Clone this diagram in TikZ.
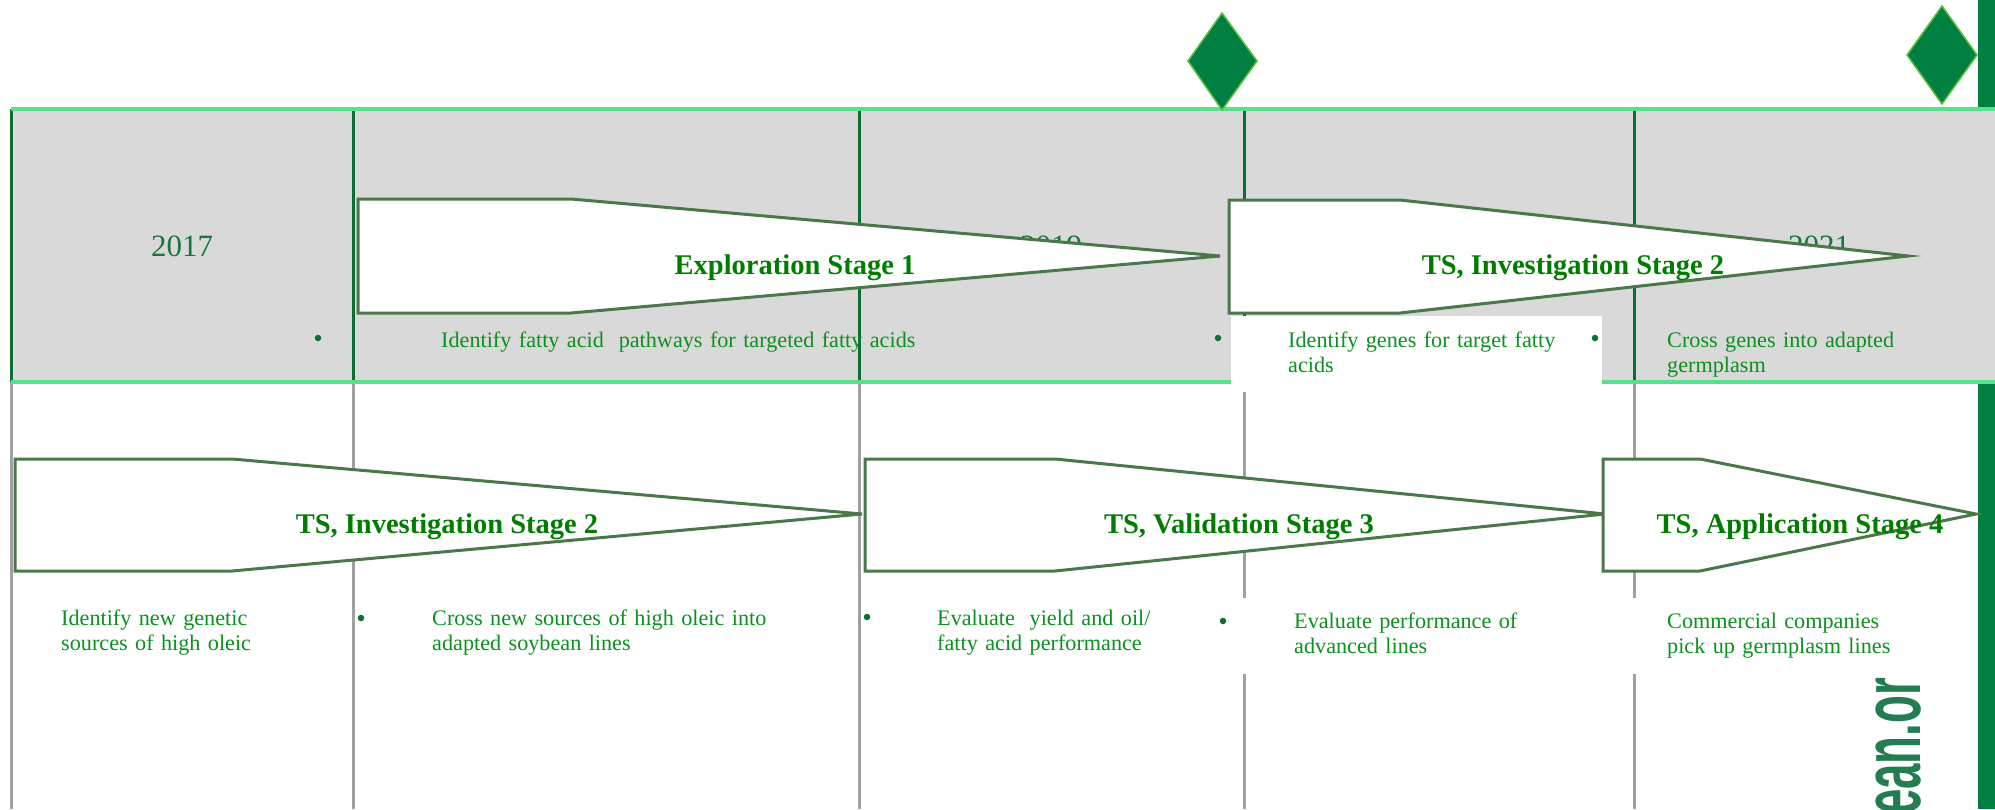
\documentclass[tikz,border=0pt]{standalone}
\usepackage{fontspec}
\setmainfont{Liberation Serif}
\setsansfont{Liberation Sans}
\usepackage{graphicx}
\definecolor{bandgray}{RGB}{217,217,217}
\definecolor{lgreen}{RGB}{85,226,140}
\definecolor{dgreen}{RGB}{12,110,50}
\definecolor{vgray}{RGB}{160,160,160}
\definecolor{dia}{RGB}{0,128,64}
\definecolor{diaedge}{RGB}{90,190,60}
\definecolor{yeargreen}{RGB}{20,120,60}
\definecolor{txtgreen}{RGB}{10,145,30}
\definecolor{lblgreen}{RGB}{0,125,0}
\definecolor{arrowedge}{RGB}{75,120,75}
\definecolor{wmgreen}{RGB}{35,125,80}
\definecolor{bargreen}{RGB}{0,128,64}
\begin{document}
\begin{tikzpicture}[x=1pt,y=-1pt,
  stagearrow/.style={fill=white, draw=arrowedge, line width=3pt, line join=miter},
  stagelabel/.style={text=lblgreen, font=\fontsize{28.5}{30}\selectfont\bfseries, inner sep=0pt, anchor=base},
  desc/.style={text=txtgreen, font=\fontsize{22.2}{25}\selectfont, inner sep=0pt, anchor=base west, align=left, text width=520pt},
  yearlbl/.style={text=yeargreen, font=\fontsize{31}{33}\selectfont, inner sep=0pt, anchor=base},
  bulletdot/.style={circle, fill=dgreen, inner sep=0pt, minimum size=6.5pt},
  bandline/.style={draw=dgreen, line width=3pt},
  gridline/.style={draw=vgray, line width=3pt},
  hline/.style={draw=lgreen, line width=3.5pt},
  milestone/.style={fill=dia, draw=diaedge, line width=1.5pt, line join=miter},
  whitebox/.style={fill=white, draw=none}]
\useasboundingbox (0,0) rectangle (1995,809);
\fill[white] (0,0) rectangle (1995,809);
% right green bar
\fill[bargreen] (1978,0) rectangle (1995,809);
% grey band
\fill[bandgray] (11,109) rectangle (1995,382);
% years
\node[yearlbl] (y2017) at (182,256) {2017};
\node[yearlbl] (y2019) at (1051,256) {2019};
\node[yearlbl] (y2021) at (1819,256) {2021};
% vertical lines
\foreach \xx in {11,353,859,1244,1634}{
  \draw[bandline] (\xx,109) -- (\xx,382);
  \draw[gridline] (\xx,382) -- (\xx,809);
}
% horizontal light green lines
\draw[hline] (11,109) -- (1995,109);
\draw[hline] (11,382) -- (1995,382);
% watermark fragment
\node[rotate=90, anchor=base west, inner sep=0pt, text=wmgreen] (wm) at (1920,815)
  {\scalebox{0.55}[1]{\fontsize{83}{83}\selectfont\sffamily\bfseries ean.or}};
% white boxes
\fill[whitebox] (1231,316) rectangle (1602,392);
\fill[whitebox] (1231,598) rectangle (1921,674);
% stage arrows
\draw[stagearrow] (358,199) -- (571,199) -- (1220,256) -- (571,313) -- (358,313) -- cycle;
\draw[stagearrow] (1229,200) -- (1400,200) -- (1908,256) -- (1400,313) -- (1229,313) -- cycle;
\draw[stagearrow] (15,459) -- (232,459) -- (862,514) -- (232,571) -- (15,571) -- cycle;
\draw[stagearrow] (865,459) -- (1055,459) -- (1605,514) -- (1055,571) -- (865,571) -- cycle;
\draw[stagearrow] (1603,459) -- (1700,459) -- (1976,514) -- (1700,571) -- (1603,571) -- cycle;
% stage labels
\node[stagelabel] (l1) at (795,274) {Exploration Stage 1};
\node[stagelabel] (l2) at (1573,274) {TS, Investigation Stage 2};
\node[stagelabel] (l3) at (447,533) {TS, Investigation Stage 2};
\node[stagelabel] (l4) at (1239,533) {TS, Validation Stage 3};
\node[stagelabel] (l5) at (1800,533) {TS, Application Stage 4};
% bullets
\node[bulletdot] (b1) at (318,338) {};
\node[bulletdot] (b2) at (1218,338) {};
\node[bulletdot] (b3) at (1595,338) {};
\node[bulletdot] (b4) at (361,618) {};
\node[bulletdot] (b5) at (867,617) {};
\node[bulletdot] (b6) at (1223,621) {};
% descriptions
\node[desc] (t1) at (441,347) {Identify fatty acid~ pathways for targeted fatty acids};
\node[desc] (t2) at (1288,347) {Identify genes for target fatty\\acids};
\node[desc] (t3) at (1667,347) {Cross genes into adapted\\germplasm};
\node[desc] (d1) at (61,625) {Identify new genetic\\sources of high oleic};
\node[desc] (d2) at (432,625) {Cross new sources of high oleic into\\adapted soybean lines};
\node[desc] (d3) at (937,625) {Evaluate~ yield and oil/\\fatty acid performance};
\node[desc] (d4) at (1294,628) {Evaluate performance of\\advanced lines};
\node[desc] (d5) at (1667,628) {Commercial companies\\pick up germplasm lines};
% milestones
\draw[milestone] (1222,13) -- (1257,61) -- (1222,110) -- (1188,61) -- cycle;
\draw[milestone] (1942,6) -- (1977,55) -- (1942,104) -- (1907,55) -- cycle;
\end{tikzpicture}
\end{document}
